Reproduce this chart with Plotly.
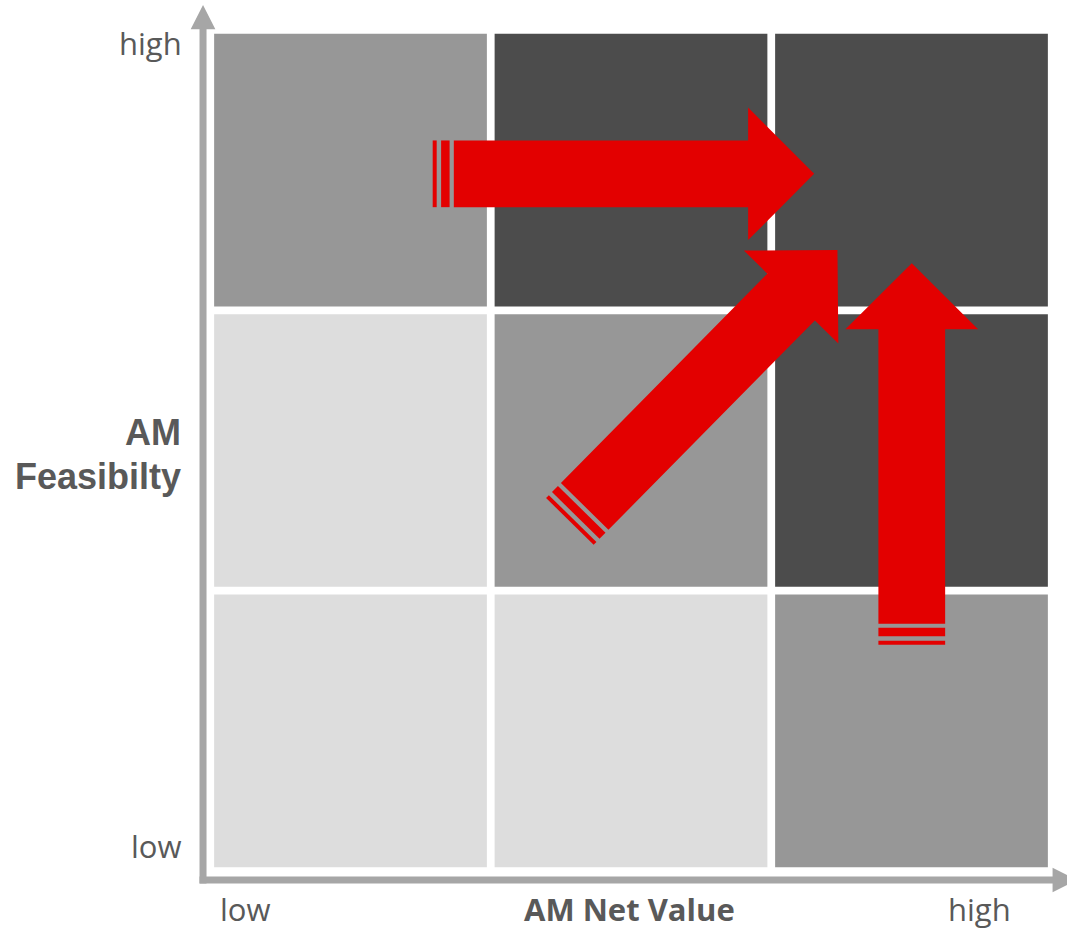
import numpy as np
import plotly.graph_objects as go

# Matrix cells: rows listed bottom (low feasibility) to top (high feasibility),
# columns from low to high net value. 1 = light, 2 = medium, 3 = dark.
net_value_levels = ["low", "medium", "high"]
feasibility_levels = ["low", "medium", "high"]
cell_shade = [
    [1, 1, 2],   # low feasibility
    [1, 2, 3],   # medium feasibility
    [2, 3, 3],   # high feasibility
]

# Movements across the matrix: (start x, start y) -> (end x, end y) in cell units
moves_from = [(0.793, 2.487), (1.282, 1.247), (2.501, 0.807)]
moves_to = [(2.153, 2.487), (2.236, 2.215), (2.501, 2.168)]

axis_labels_x = ["low", "AM Net Value", "high"]
axis_labels_y = ["low", "AM", "Feasibilty", "high"]

SHADES = {1: "#DDDDDD", 2: "#979797", 3: "#4C4C4C"}
RED = "#E30000"
AXIS_GREY = "#A6A6A6"
TEXT_GREY = "#595959"
HALF_GAP = 0.0138

# Block arrow geometry (cell units)
BODY_HW = 0.119
HEAD_HW = 0.2365
HEAD_LEN = 0.2354
STRIPES = [(0.0, 0.0143), (0.030, 0.0603)]
BODY_START = 0.0753


def poly_path(pts):
    return "M " + " L ".join(f"{x:.5f},{y:.5f}" for x, y in pts) + " Z"


def striped_arrow(p0, p1):
    p0 = np.asarray(p0, float)
    p1 = np.asarray(p1, float)
    d = p1 - p0
    length = np.hypot(*d)
    u = d / length
    n = np.array([-u[1], u[0]])
    at = lambda s, w: tuple(p0 + u * s + n * w)
    paths = []
    for s0, s1 in STRIPES:
        paths.append(poly_path([at(s0, -BODY_HW), at(s1, -BODY_HW),
                                at(s1, BODY_HW), at(s0, BODY_HW)]))
    hb = length - HEAD_LEN
    paths.append(poly_path([
        at(BODY_START, -BODY_HW), at(hb, -BODY_HW), at(hb, -HEAD_HW),
        at(length, 0), at(hb, HEAD_HW), at(hb, BODY_HW), at(BODY_START, BODY_HW)
    ]))
    return paths


shapes = []

# Matrix cells
for r, row in enumerate(cell_shade):
    for c, v in enumerate(row):
        shapes.append(dict(type="rect", xref="x", yref="y",
                           x0=c + HALF_GAP, x1=c + 1 - HALF_GAP,
                           y0=r + HALF_GAP, y1=r + 1 - HALF_GAP,
                           fillcolor=SHADES[v], line=dict(width=0), layer="below"))

# Axes with arrowheads
AX_X, AX_Y = -0.0258, -0.032
AX_HW, AX_HEAD_HW, AX_HEAD_LEN = 0.0125, 0.044, 0.086
AX_END = 3.089
shapes.append(dict(type="path", xref="x", yref="y", line=dict(width=0),
                   fillcolor=AXIS_GREY,
                   path=poly_path([
                       (AX_X - AX_HW, AX_Y - AX_HW), (AX_X + AX_HW, AX_Y - AX_HW),
                       (AX_X + AX_HW, AX_END - AX_HEAD_LEN), (AX_X + AX_HEAD_HW, AX_END - AX_HEAD_LEN),
                       (AX_X, AX_END), (AX_X - AX_HEAD_HW, AX_END - AX_HEAD_LEN),
                       (AX_X - AX_HW, AX_END - AX_HEAD_LEN)])))
shapes.append(dict(type="path", xref="x", yref="y", line=dict(width=0),
                   fillcolor=AXIS_GREY,
                   path=poly_path([
                       (AX_X - AX_HW, AX_Y - AX_HW), (AX_END - AX_HEAD_LEN, AX_Y - AX_HW),
                       (AX_END - AX_HEAD_LEN, AX_Y - AX_HEAD_HW), (AX_END, AX_Y),
                       (AX_END - AX_HEAD_LEN, AX_Y + AX_HEAD_HW),
                       (AX_END - AX_HEAD_LEN, AX_Y + AX_HW), (AX_X - AX_HW, AX_Y + AX_HW)])))

# Movement arrows
for a, b in zip(moves_from, moves_to):
    for p in striped_arrow(a, b):
        shapes.append(dict(type="path", xref="x", yref="y", path=p,
                           fillcolor=RED, line=dict(width=0)))

SOFT = "Open Sans, Lato, sans-serif"
HARD = "Liberation Sans, Arial, sans-serif"
X_LABEL_Y = -0.1356
annotations = [
    dict(x=0.124, y=X_LABEL_Y, text=axis_labels_x[0],
         font=dict(family=SOFT, size=31, color=TEXT_GREY)),
    dict(x=1.493, y=X_LABEL_Y, text=f"<b>{axis_labels_x[1]}</b>",
         font=dict(family=SOFT, size=31, color=TEXT_GREY)),
    dict(x=2.744, y=X_LABEL_Y, text=axis_labels_x[2],
         font=dict(family=SOFT, size=31, color=TEXT_GREY)),
    dict(x=-0.098, y=0.09, text=axis_labels_y[0], xanchor="right",
         font=dict(family=SOFT, size=31, color=TEXT_GREY)),
    dict(x=-0.100, y=1.566, text=f"<b>{axis_labels_y[1]}</b>", xanchor="right",
         font=dict(family=HARD, size=36, color=TEXT_GREY)),
    dict(x=-0.100, y=1.408, text=f"<b>{axis_labels_y[2]}</b>", xanchor="right",
         font=dict(family=HARD, size=36, color=TEXT_GREY)),
    dict(x=-0.098, y=2.955, text=axis_labels_y[3], xanchor="right",
         font=dict(family=SOFT, size=31, color=TEXT_GREY)),
]
for a in annotations:
    a.update(xref="x", yref="y", showarrow=False, yanchor="middle", borderpad=0)
    a.setdefault("xanchor", "center")

fig = go.Figure()
fig.add_trace(go.Scatter(x=[], y=[], hoverinfo="skip", showlegend=False))
fig.update_layout(
    width=1067, height=932, autosize=False,
    margin=dict(l=0, r=0, t=0, b=0),
    paper_bgcolor="white", plot_bgcolor="white",
    xaxis=dict(range=[-0.7496, 3.0544], visible=False, fixedrange=True),
    yaxis=dict(range=[-0.2176, 3.107], visible=False, fixedrange=True),
    shapes=shapes, annotations=annotations, showlegend=False,
)
fig.write_html("out.html")
